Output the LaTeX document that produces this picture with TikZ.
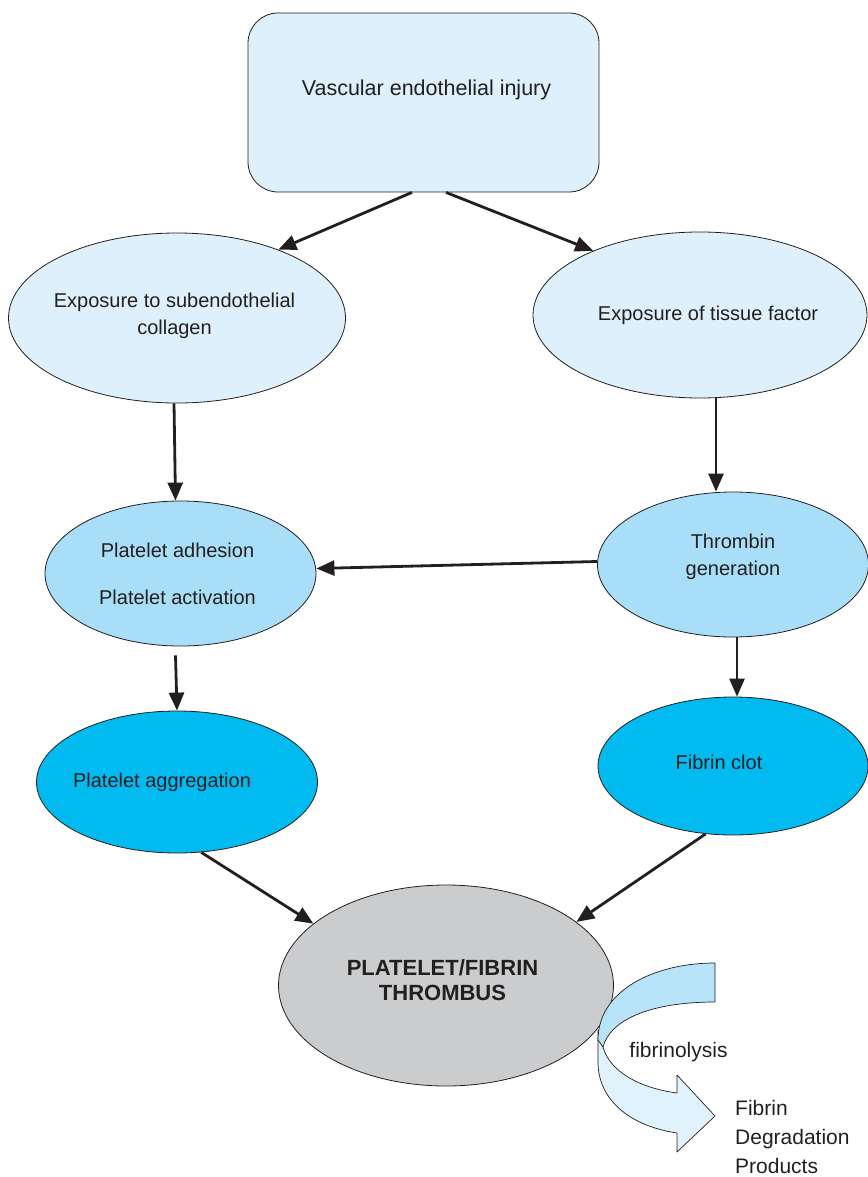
\documentclass[tikz,border=0pt]{standalone}
\usepackage{fontspec}
\setmainfont{Liberation Sans}
\usetikzlibrary{shapes.geometric,arrows.meta}
\definecolor{txt}{HTML}{231F20}
\definecolor{pale}{HTML}{DDF0FB}
\definecolor{midb}{HTML}{A9DEF8}
\definecolor{cyanb}{HTML}{00BAF0}
\definecolor{grayb}{HTML}{CBCCCE}
\definecolor{ribtop}{HTML}{B8E4F9}
\definecolor{ribbot}{HTML}{E0F2FC}
\begin{document}
\begin{tikzpicture}[x=1pt,y=-1pt,
  every node/.style={text=txt},
  blob/.style={ellipse, draw=txt, line width=0.8pt, inner sep=0pt},
  lab/.style={font=\fontsize{20}{27}\selectfont, align=center, text=txt},
  arr/.style={draw=txt, line width=2.8pt, -{Triangle[length=18pt,width=15pt]}},
  ribbon/.style={draw=txt, line width=0.7pt, line join=round}]
\useasboundingbox (0,0) rectangle (867,1177);

% nodes
\node[rectangle, rounded corners=30pt, draw=txt, line width=0.8pt, fill=pale,
      minimum width=351pt, minimum height=179pt, inner sep=0pt,
      label={[lab, font=\fontsize{21.5}{27}\selectfont, xshift=3pt, yshift=12.5pt]center:Vascular endothelial injury}]
      (top) at (423.5,102.5) {};

\node[blob, fill=pale, minimum width=337pt, minimum height=170pt,
      label={[lab, xshift=-2.5pt, yshift=2.5pt]center:Exposure to subendothelial\\collagen}]
      (e1) at (177,318) {};
\node[blob, fill=pale, minimum width=334pt, minimum height=166pt,
      label={[lab, xshift=8pt]center:Exposure of tissue factor}]
      (e2) at (700,315) {};
\node[blob, fill=midb, minimum width=271pt, minimum height=145pt,
      label={[lab, xshift=-3pt]center:Platelet adhesion\\[20pt]Platelet activation}]
      (e3) at (180.5,573.5) {};
\node[blob, fill=midb, minimum width=271pt, minimum height=145pt,
      label={[lab, yshift=8pt]center:Thrombin\\generation}]
      (e4) at (733,564.5) {};
\node[blob, fill=cyanb, minimum width=281pt, minimum height=142pt,
      label={[lab, xshift=-15pt]center:Platelet aggregation}]
      (e5) at (177,782) {};
\node[blob, fill=cyanb, minimum width=270pt, minimum height=138pt,
      label={[lab, xshift=-14pt, yshift=4pt]center:Fibrin clot}]
      (e6) at (733,766) {};
\node[blob, fill=grayb, minimum width=335pt, minimum height=201pt,
      label={[lab, font=\bfseries\fontsize{22}{25}\selectfont, xshift=-3.5pt, yshift=5.5pt]center:PLATELET/FIBRIN\\THROMBUS}]
      (e7) at (446,985.5) {};

% connectors
\draw[arr] ([xshift=-11.5pt]top.south) -- (e1.34);
\draw[arr] ([xshift=22.5pt]top.south) -- (e2.149);
\draw[arr] ([xshift=-3pt]e1.south) -- ([xshift=-5pt]e3.north);
\draw[arr] ([xshift=16pt]e2.south) -- ([xshift=-17pt]e4.north);
\draw[arr] ([yshift=3pt]e4.west) -- ([yshift=5pt]e3.east);
\draw[arr] ([xshift=-5pt,yshift=-9pt]e3.south) -- (e5.north);
\draw[arr] ([xshift=4pt]e4.south) -- ([xshift=4pt]e6.north);
\draw[arr] (e5.-71) -- (e7.155);
\draw[arr] (e6.248) -- (e7.26);

% fibrinolysis ribbon arrow
\filldraw[ribbon, fill=ribbot]
  (598,1030) -- (598,1062)
  .. controls (598,1100) and (630,1126) .. (677,1133)
  -- (677,1152) -- (715,1116) -- (677,1075) -- (677,1093)
  .. controls (640,1088) and (610,1072) .. (603,1047) -- cycle;
\filldraw[ribbon, fill=ribtop]
  (715,963) .. controls (655,963) and (598,990) .. (598,1040)
  -- (603,1047)
  .. controls (610,1020) and (650,1002) .. (715,1002) -- cycle;

\node[lab, font=\fontsize{21}{29}\selectfont, inner sep=0pt] (fl) at (678.5,1052) {fibrinolysis};
\node[lab, font=\fontsize{21}{29}\selectfont, align=left, anchor=west, inner sep=0pt] (fdp) at (735,1137) {Fibrin\\Degradation\\Products};
\end{tikzpicture}
\end{document}
